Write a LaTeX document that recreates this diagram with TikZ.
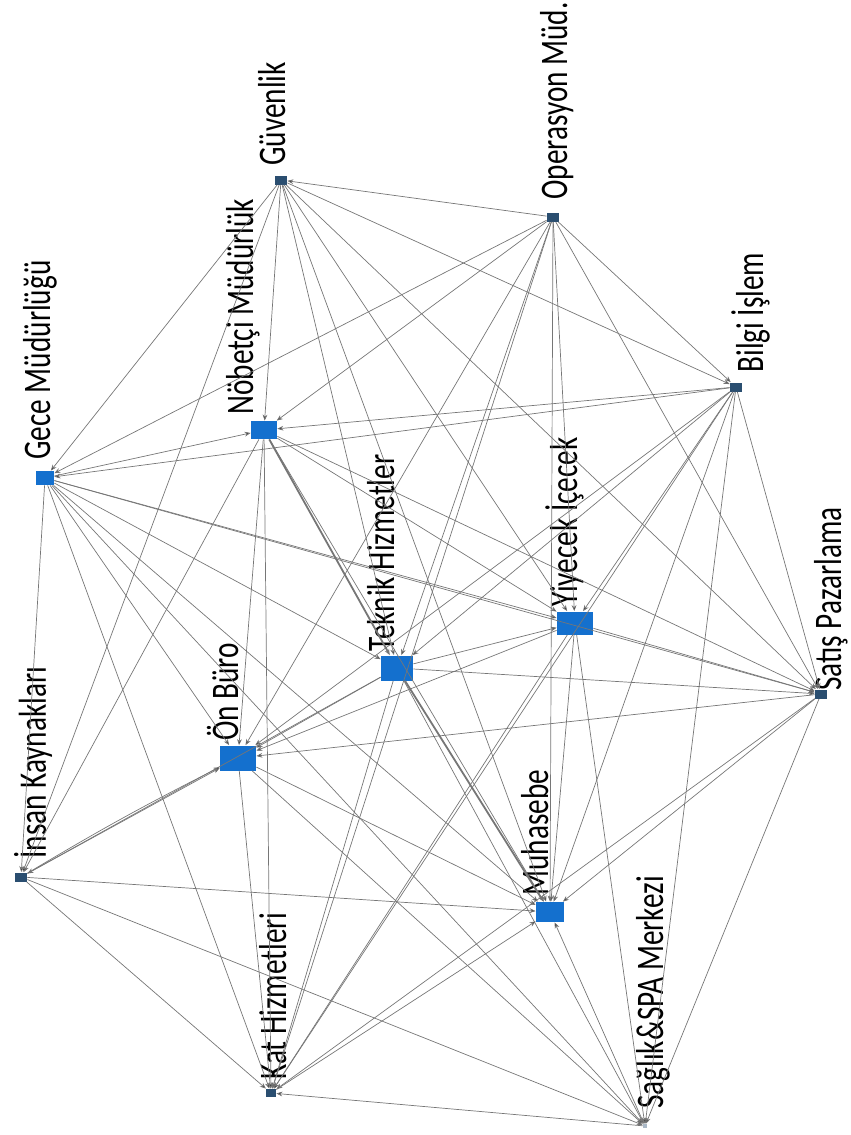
\documentclass[tikz,border=0pt]{standalone}
\usepackage{fontspec}
\usepackage{xcolor}
\usepackage{tikz}
\usetikzlibrary{arrows.meta}
\newfontfamily\lblfont[FakeStretch=0.75]{Carlito}
\definecolor{nodeblue}{RGB}{20,112,206}
\definecolor{nodedark}{RGB}{42,78,112}
\definecolor{linegray}{RGB}{118,118,118}

\begin{document}
\begin{tikzpicture}[
			     x=0.5pt, y=-0.5pt,
			     box/.style={inner sep=0pt, fill=nodeblue},
			     bigbox/.style={box, minimum width=16pt, minimum height=12.5pt},
			     midbox/.style={box, minimum width=13pt, minimum height=9pt},
			     smallbox/.style={box, fill=nodedark, minimum width=6pt, minimum height=4.5pt},
			     conn/.style={draw=linegray, line width=0.35pt, -{Stealth[length=3pt,width=2.4pt]}},
			     heavy/.style={conn, line width=0.9pt},
			     lbl/.style={font=\lblfont\fontsize{19.5}{20}\selectfont, rotate=90, anchor=base west, inner sep=0pt}
			     ]
\useasboundingbox (0,0) rectangle (851,1135);
%
\node[smallbox] (guv) at (281,180) {};
\node[smallbox] (ops) at (553,217) {};
\node[smallbox] (bil) at (736,387) {};
\node[box, minimum width=9pt, minimum height=7pt] (gece) at (45,478) {};
\node[midbox] (nob) at (264,430) {};
\node[bigbox] (tek) at (397,668) {};
\node[bigbox, minimum width=18pt, minimum height=11.5pt] (yiy) at (575,623) {};
\node[smallbox] (sat) at (821,694) {};
\node[bigbox, minimum width=18pt] (onb) at (238,758) {};
\node[smallbox] (ik) at (21,877) {};
\node[midbox, minimum width=14pt, minimum height=10pt] (muh) at (550,912) {};
\node[smallbox, minimum width=5pt, minimum height=4pt] (kat) at (271,1093) {};
\node[box, fill=nodedark!40, minimum width=2pt, minimum height=2pt] (spa) at (645,1126) {};
%
\node[lbl] at ([shift={(4,-14)}]guv.center) {Güvenlik};
\node[lbl] at ([shift={(14,-17)}]ops.center) {Operasyon Müd.};
\node[lbl] at ([shift={(27,-14)}]bil.center) {Bilgi İşlem};
\node[lbl] at ([shift={(5,-18)}]gece.center) {Gece Müdürlüğü};
\node[lbl] at ([shift={(-11,-15)}]nob.center) {Nöbetçi Müdürlük};
\node[lbl] at ([shift={(-3,-16)}]tek.center) {Teknik Hizmetler};
\node[lbl] at ([shift={(2,-16)}]yiy.center) {Yiyecek İçecek};
\node[lbl] at ([shift={(20,-3)}]sat.center) {Satış Pazarlama};
\node[lbl] at ([shift={(0,-17)}]onb.center) {Ön Büro};
\node[lbl] at ([shift={(25,-18)}]ik.center) {İnsan Kaynakları};
\node[lbl] at ([shift={(-2,-16)}]muh.center) {Muhasebe};
\node[lbl] at ([shift={(15,-13)}]kat.center) {Kat Hizmetleri};
\node[lbl] at ([shift={(18,-17)}]spa.center) {Sağlık\&SPA Merkezi};
%
\path[conn] (ops) edge (guv) edge (gece) edge (nob) edge (onb) edge (tek) edge (yiy) edge (muh) edge (bil) edge (sat) edge (kat);
\path[conn] (guv) edge (bil) edge (sat) edge (yiy) edge (tek) edge (nob) edge (gece) edge (ik) edge (muh);
\path[conn] (bil) edge (gece) edge (nob) edge (onb) edge (tek) edge (yiy) edge (muh) edge (spa) edge (kat) edge (sat);
\path[conn] (gece) edge (nob) edge (sat) edge (tek) edge (yiy) edge (muh) edge (onb) edge (kat) edge (ik) edge (spa);
\path[conn] (nob) edge (yiy) edge (sat) edge (onb) edge (kat) edge (muh) edge (ik);
\path[heavy] (nob) edge (tek);
\path[conn] (tek) edge (yiy) edge (sat) edge (onb) edge (ik) edge (kat) edge (spa);
\path[heavy] (tek) edge (muh);
\path[conn] (yiy) edge (sat) edge (onb) edge (muh) edge (spa) edge (kat);
\path[conn] (sat) edge (onb) edge (muh) edge (spa) edge (kat);
\path[conn] (ik) edge (onb) edge (muh) edge (spa) edge (kat);
\path[conn] (ik) edge[bend left=2] (onb);
\path[conn] (onb) edge (kat) edge (muh) edge (spa);
\path[conn] (spa) edge (kat) edge (muh);
\path[conn] (kat) edge (muh);
\end{tikzpicture}
\end{document}
